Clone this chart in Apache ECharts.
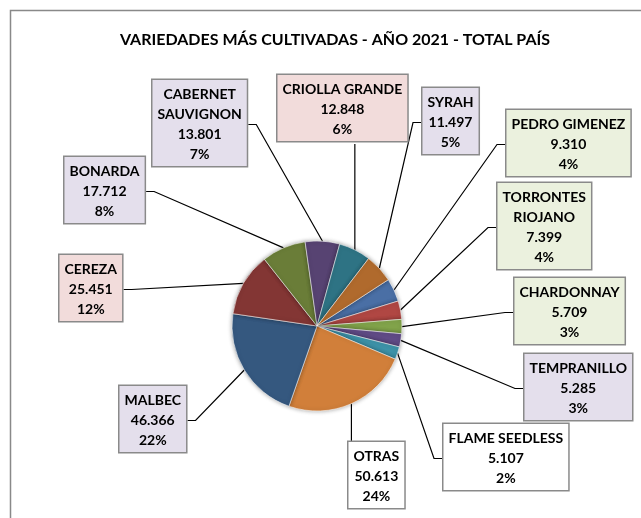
<!DOCTYPE html>
<html>
<head>
<meta charset="utf-8">
<script src="https://cdn.jsdelivr.net/npm/echarts@6/dist/echarts.min.js"></script>
<style>
  html, body { margin: 0; padding: 0; background: #fff; }
  #chart { width: 641px; height: 518px; }
</style>
</head>
<body>
<div id="chart"></div>
<script>
// hectáreas por variedad, en el orden en que Excel dibuja las porciones (sentido horario)
const varieties = ['PEDRO GIMENEZ', 'TORRONTES\nRIOJANO', 'CHARDONNAY', 'TEMPRANILLO', 'FLAME SEEDLESS', 'OTRAS',
  'MALBEC', 'CEREZA', 'BONARDA', 'CABERNET\nSAUVIGNON', 'CRIOLLA GRANDE', 'SYRAH'];
const hectares = [9310, 7399, 5709, 5285, 5107, 50613, 46366, 25451, 17712, 13801, 12848, 11497];

const sliceColors = ['#4a6fa5', '#b04743', '#81a34a', '#604b86', '#3d92a8', '#d17f3a',
  '#35587f', '#833634', '#6a7d38', '#574372', '#2e7384', '#b06a2d'];
const boxColors = ['#ebf1de', '#ebf1de', '#ebf1de', '#e4dfec', '#ffffff', '#ffffff',
  '#e4dfec', '#f2dcdb', '#e4dfec', '#e4dfec', '#f2dcdb', '#e4dfec'];
// esquina superior izquierda de cada cuadro de etiqueta (px)
const boxPos = [[505, 110], [496, 183], [513, 278], [523, 354], [442, 424], [347, 442],
  [118, 386], [58, 255], [63, 157], [151, 80], [276, 75], [421, 88]];

const FONT = "Lato, 'Liberation Sans', sans-serif";

function miles(v) {
  return String(v).replace(/\B(?=(\d{3})+(?!\d))/g, '.');
}

const chart = echarts.init(document.getElementById('chart'));

const data = varieties.map((n, i) => ({
  name: n,
  value: hectares[i],
  itemStyle: {color: sliceColors[i]},
  label: {backgroundColor: boxColors[i]}
}));

chart.setOption({
  animation: false,
  backgroundColor: '#fff',
  title: {
    text: 'VARIEDADES MÁS CULTIVADAS - AÑO 2021 - TOTAL PAÍS',
    left: 330,
    top: 27,
    textAlign: 'center',
    textStyle: {fontFamily: FONT, fontSize: 16, fontWeight: 'bold', color: '#000'}
  },
  graphic: [{
    type: 'rect',
    shape: {x: 10.5, y: 10.5, width: 700, height: 600},
    style: {fill: 'none', stroke: '#898989', lineWidth: 1.5},
    silent: true
  }],
  series: [{
    type: 'pie',
    center: [317, 326],
    radius: 85,
    startAngle: 33,
    clockwise: true,
    avoidLabelOverlap: false,
    percentPrecision: 0,
    itemStyle: {
      borderColor: 'rgba(255,255,255,0.55)',
      borderWidth: 1,
      shadowBlur: 4,
      shadowColor: 'rgba(0,0,0,0.35)'
    },
    label: {
      show: true,
      position: 'outside',
      formatter: p => p.name + '\n' + miles(p.value) + '\n' + p.percent + '%',
      fontFamily: FONT,
      fontSize: 14,
      fontWeight: 'bold',
      color: '#000',
      lineHeight: 20,
      padding: [4, 5, 2, 5],
      borderColor: '#8a8a8a',
      borderWidth: 1.5
    },
    labelLine: {
      show: true,
      lineStyle: {color: '#000', width: 1.2}
    },
    labelLayout: function (p) {
      const i = p.dataIndex;
      const bx = boxPos[i][0], by = boxPos[i][1];
      const w = p.labelRect.width, h = p.labelRect.height;
      const s = p.labelLinePoints[0];
      let pts;
      if (s[0] >= bx && s[0] <= bx + w) {
        // cuadro justo arriba o abajo: línea vertical
        const ey = s[1] < by ? by : by + h;
        pts = [s, [s[0], ey], [s[0], ey]];
      } else {
        const right = s[0] > bx + w;
        const ex = right ? bx + w : bx;
        const my = by + h / 2;
        pts = [s, [right ? ex + 8 : ex - 8, my], [ex, my]];
      }
      return {x: bx + w / 2, y: by, align: 'center', verticalAlign: 'top', labelLinePoints: pts};
    },
    emphasis: {disabled: true},
    data: data
  }]
});
</script>
</body>
</html>
